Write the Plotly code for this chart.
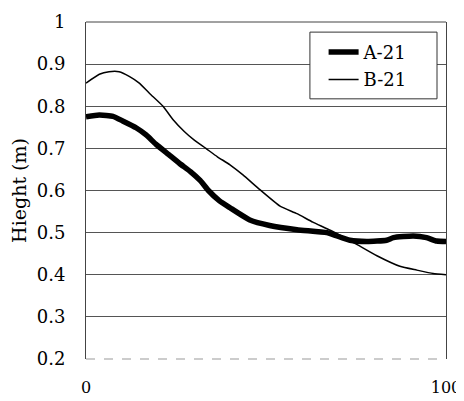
import plotly.graph_objects as go

a_x = [0, 3.7, 7.5, 10.2, 13.9, 16.7, 19.4, 23, 26, 29, 31.7, 34, 37, 40, 45.5, 51, 58.6, 66.9, 69.7, 73.3, 78, 83.5, 85.4, 90.9, 94.6, 97.4, 100]
a_y = [0.775, 0.779, 0.776, 0.765, 0.749, 0.732, 0.71, 0.685, 0.664, 0.645, 0.624, 0.60, 0.576, 0.559, 0.53, 0.517, 0.507, 0.50, 0.492, 0.482, 0.479, 0.482, 0.488, 0.492, 0.488, 0.48, 0.479]

b_x = [0, 3.7, 6.4, 9.2, 12, 14.8, 17.6, 21.4, 24.2, 27.3, 30, 33.3, 36.5, 40, 43.6, 48.3, 53.9, 58.6, 63, 68, 75.2, 80.8, 87.2, 91.9, 96.4, 100]
b_y = [0.855, 0.876, 0.882, 0.882, 0.871, 0.855, 0.831, 0.80, 0.768, 0.74, 0.72, 0.70, 0.68, 0.661, 0.637, 0.602, 0.563, 0.545, 0.525, 0.505, 0.472, 0.445, 0.42, 0.411, 0.403, 0.40]

x_ticks = [0, 100]
x_labels = ["0", "100"]
y_ticks = [0.2, 0.3, 0.4, 0.5, 0.6, 0.7, 0.8, 0.9, 1.0]
y_labels = ["0.2", "0.3", "0.4", "0.5", "0.6", "0.7", "0.8", "0.9", "1"]

FONT = "DejaVu Serif"

fig = go.Figure()
fig.add_trace(go.Scatter(x=a_x, y=a_y, mode="lines", name="A-21", legendgroup="a",
                         line=dict(color="black", width=5.5, shape="spline", smoothing=0.5)))
fig.add_trace(go.Scatter(x=b_x, y=b_y, mode="lines", name="B-21", legendgroup="b",
                         line=dict(color="black", width=1.5, shape="spline", smoothing=0.5)))

# page body has an 8px margin; figure sized so plot area lands where the reference's is
fig.update_layout(
    width=456, height=393,
    margin=dict(l=78, r=18, t=14, b=42),
    paper_bgcolor="white", plot_bgcolor="white",
    font=dict(family=FONT, size=18, color="black"),
    showlegend=True,
    legend=dict(x=0.66, y=0.965, xanchor="left", yanchor="top",
                borderwidth=0, bgcolor="rgba(0,0,0,0)",
                font=dict(family=FONT, size=18), tracegroupgap=1),
    xaxis=dict(range=[0, 100], tickvals=x_ticks, ticktext=x_labels,
               showgrid=False, zeroline=False, showline=False, automargin=False,
               ticks="", ticklabelstandoff=17,
               tickfont=dict(family=FONT, size=16)),
    yaxis=dict(range=[0.2, 1.0], tickvals=y_ticks, ticktext=y_labels,
               showgrid=True, gridcolor="#555", gridwidth=1, automargin=False,
               zeroline=False, showline=True, linecolor="#444", linewidth=1,
               mirror=True, ticks="", ticklabelstandoff=16,
               tickfont=dict(family=FONT, size=18),
               title=dict(text="Hieght (m)", standoff=12,
                          font=dict(family=FONT, size=19))),
    shapes=[
        dict(type="line", xref="paper", yref="paper", x0=0, x1=1, y0=1, y1=1,
             line=dict(color="#444", width=1)),
        dict(type="line", xref="paper", yref="paper", x0=0, x1=1, y0=0, y1=0,
             line=dict(color="#999", width=1, dash="dash")),
        dict(type="rect", xref="paper", yref="paper", x0=0.622, x1=0.975, y0=0.772, y1=0.970,
             line=dict(color="#333", width=1), fillcolor="white", layer="above"),
    ],
)

fig.write_html("out.html")
